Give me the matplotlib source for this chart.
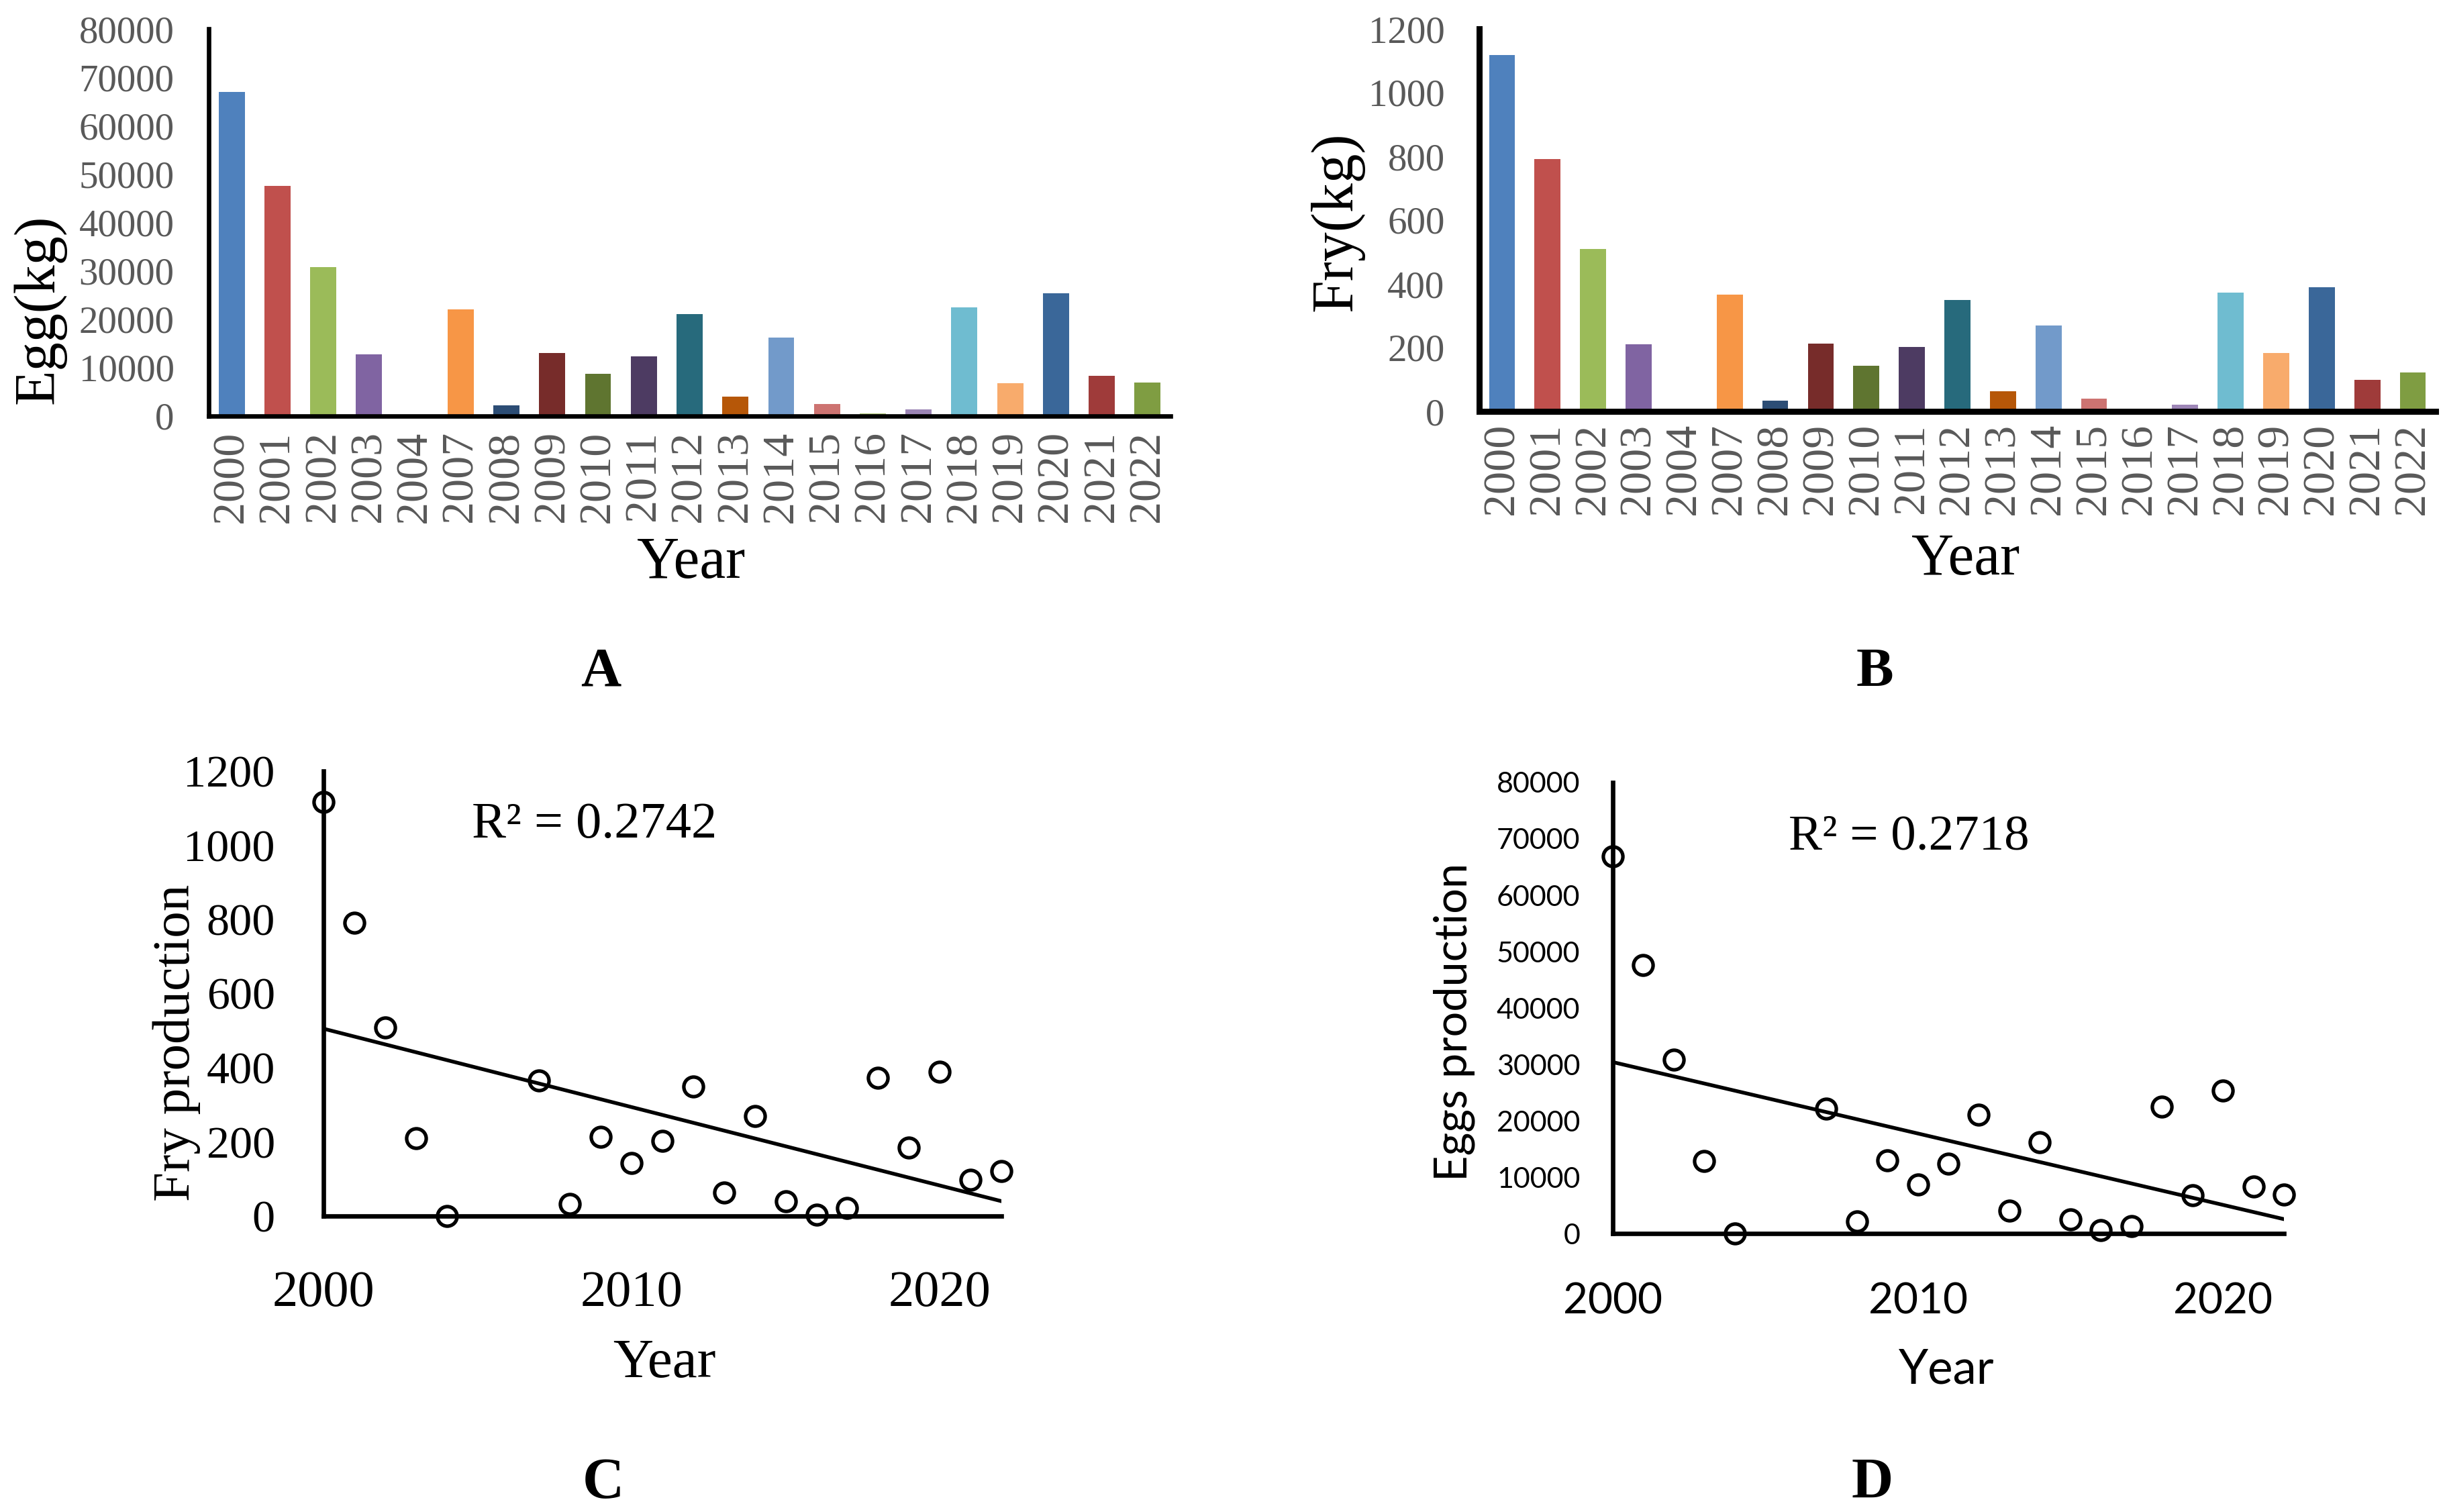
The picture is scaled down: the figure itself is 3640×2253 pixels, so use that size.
import matplotlib
matplotlib.use("Agg")
import matplotlib.pyplot as plt
import numpy as np

# ---------------------------------------------------------------------------
# Data
# ---------------------------------------------------------------------------
YEARS = [2000, 2001, 2002, 2003, 2004, 2007, 2008, 2009, 2010, 2011, 2012,
         2013, 2014, 2015, 2016, 2017, 2018, 2019, 2020, 2021, 2022]
YEAR_LABELS = [str(y) for y in YEARS]

EGG_KG = [66900, 47600, 30800, 12800, 0, 22100, 2150, 13000, 8700, 12400,
          21050, 4000, 16200, 2500, 560, 1350, 22500, 6800, 25400, 8300, 6900]

FRY_KG = [1117, 791, 509, 210, 0, 366, 33, 213, 143, 202, 349, 63, 269, 39,
          4, 21, 372, 184, 389, 98, 122]

BAR_COLORS = ["#4F81BD", "#C0504D", "#9BBB59", "#8064A2", "#4BACC6",
              "#F79646", "#2C4D75", "#772C2A", "#5F7530", "#4D3B62",
              "#276A7C", "#B65708", "#729ACA", "#CD7371", "#AFC97A",
              "#9D86B6", "#6FBCD0", "#F8AB6C", "#3A6799", "#9F3B3A",
              "#7F9D42"]

R2_FRY = "R\u00b2 = 0.2742"
R2_EGG = "R\u00b2 = 0.2718"

SERIF = "Liberation Serif"
SANS = "Lato"
GREY = "#595959"

W, H = 3641, 2253
fig = plt.figure(figsize=(W / 100, H / 100), dpi=100)


def axes_px(x0, y0, x1, y1):
    return fig.add_axes([x0 / W, 1 - y1 / H, (x1 - x0) / W, (y1 - y0) / H])


def text_px(x, y, s, **kw):
    fig.text(x / W, 1 - y / H, s, **kw)


def bar_panel(box, values, ymax, ystep, spine_w, ypad, xpad):
    ax = axes_px(*box)
    x = np.arange(len(values))
    ax.bar(x, values, width=0.57, color=BAR_COLORS)
    ax.set_xlim(-0.5, len(values) - 0.5)
    ax.set_ylim(0, ymax)
    ax.set_yticks(np.arange(0, ymax + 1, ystep))
    ax.set_xticks(x)
    ax.set_xticklabels(YEAR_LABELS, rotation=90, family=SERIF, fontsize=49, color=GREY)
    for lab in ax.get_yticklabels():
        lab.set_family(SERIF)
        lab.set_fontsize(41)
        lab.set_color(GREY)
    ax.tick_params(axis="y", length=0, pad=ypad)
    ax.tick_params(axis="x", length=0, pad=xpad)
    for s in ["top", "right"]:
        ax.spines[s].set_visible(False)
    for s in ["left", "bottom"]:
        ax.spines[s].set_linewidth(spine_w)
        ax.spines[s].set_color("black")
    return ax


def scatter_panel(box, years, values, ymax, ystep, ytick_font, ytick_size,
                  xtick_font, xtick_size, ypad, xpad):
    ax = axes_px(*box)
    ax.plot(years, values, "o", mfc="none", mec="black", ms=21, mew=3.8, clip_on=False)
    slope, icpt = np.polyfit(years, values, 1)
    xs = np.array([2000, 2022])
    ax.plot(xs, slope * xs + icpt, color="black", lw=4.0)
    ax.set_xlim(2000, 2022)
    ax.set_ylim(0, ymax)
    ax.set_yticks(np.arange(0, ymax + 1, ystep))
    ax.set_xticks([2000, 2010, 2020])
    for lab in ax.get_yticklabels():
        lab.set_family(ytick_font)
        lab.set_fontsize(ytick_size)
    for lab in ax.get_xticklabels():
        lab.set_family(xtick_font)
        lab.set_fontsize(xtick_size)
    ax.tick_params(axis="y", length=0, pad=ypad)
    ax.tick_params(axis="x", length=0, pad=xpad)
    for s in ["top", "right"]:
        ax.spines[s].set_visible(False)
    for s in ["left", "bottom"]:
        ax.spines[s].set_linewidth(4.8)
    return ax


# A: eggs bar chart
bar_panel((311, 43, 1744, 620), EGG_KG, 80000, 10000, 4.8, 37, 16)
text_px(59, 461, "Egg(kg)", rotation=90, ha="center", va="center", family=SERIF, fontsize=62)
text_px(1030, 861, "Year", ha="center", va="baseline", family=SERIF, fontsize=63)
text_px(895, 1022, "A", ha="center", va="baseline", family=SERIF, fontsize=60, weight="bold")

# B: fry bar chart
bar_panel((2204, 43, 3629, 613), FRY_KG, 1200, 200, 6.5, 37, 13)
text_px(1992, 330, "Fry(kg)", rotation=90, ha="center", va="center", family=SERIF, fontsize=63)
text_px(2929, 856, "Year", ha="center", va="baseline", family=SERIF, fontsize=63)
text_px(2793, 1022, "B", ha="center", va="baseline", family=SERIF, fontsize=60, weight="bold")

# C: fry trend
scatter_panel((482, 1149, 1492, 1812), YEARS, FRY_KG, 1200, 200,
              SERIF, 49, SERIF, 55, 52, 58)
text_px(263, 1554, "Fry production", rotation=90, ha="center", va="center",
        family=SERIF, fontsize=57)
text_px(990, 2052, "Year", ha="center", va="baseline", family=SERIF, fontsize=60)
text_px(703, 1248, R2_FRY, ha="left", va="baseline", family=SERIF, fontsize=55)
text_px(899, 2232, "C", ha="center", va="baseline", family=SERIF, fontsize=62, weight="bold")

# D: egg trend
scatter_panel((2403, 1166, 3403, 1838), YEARS, EGG_KG, 80000, 10000,
              SANS, 31, SANS, 46, 35, 52)
text_px(2167, 1523, "Eggs production", rotation=90, ha="center", va="center",
        family=SANS, fontsize=48)
text_px(2900, 2062, "Year", ha="center", va="baseline", family=SANS, fontsize=51)
text_px(2665, 1266, R2_EGG, ha="left", va="baseline", family=SERIF, fontsize=54)
text_px(2790, 2232, "D", ha="center", va="baseline", family=SERIF, fontsize=62, weight="bold")

fig.savefig("out.png", dpi=100)
